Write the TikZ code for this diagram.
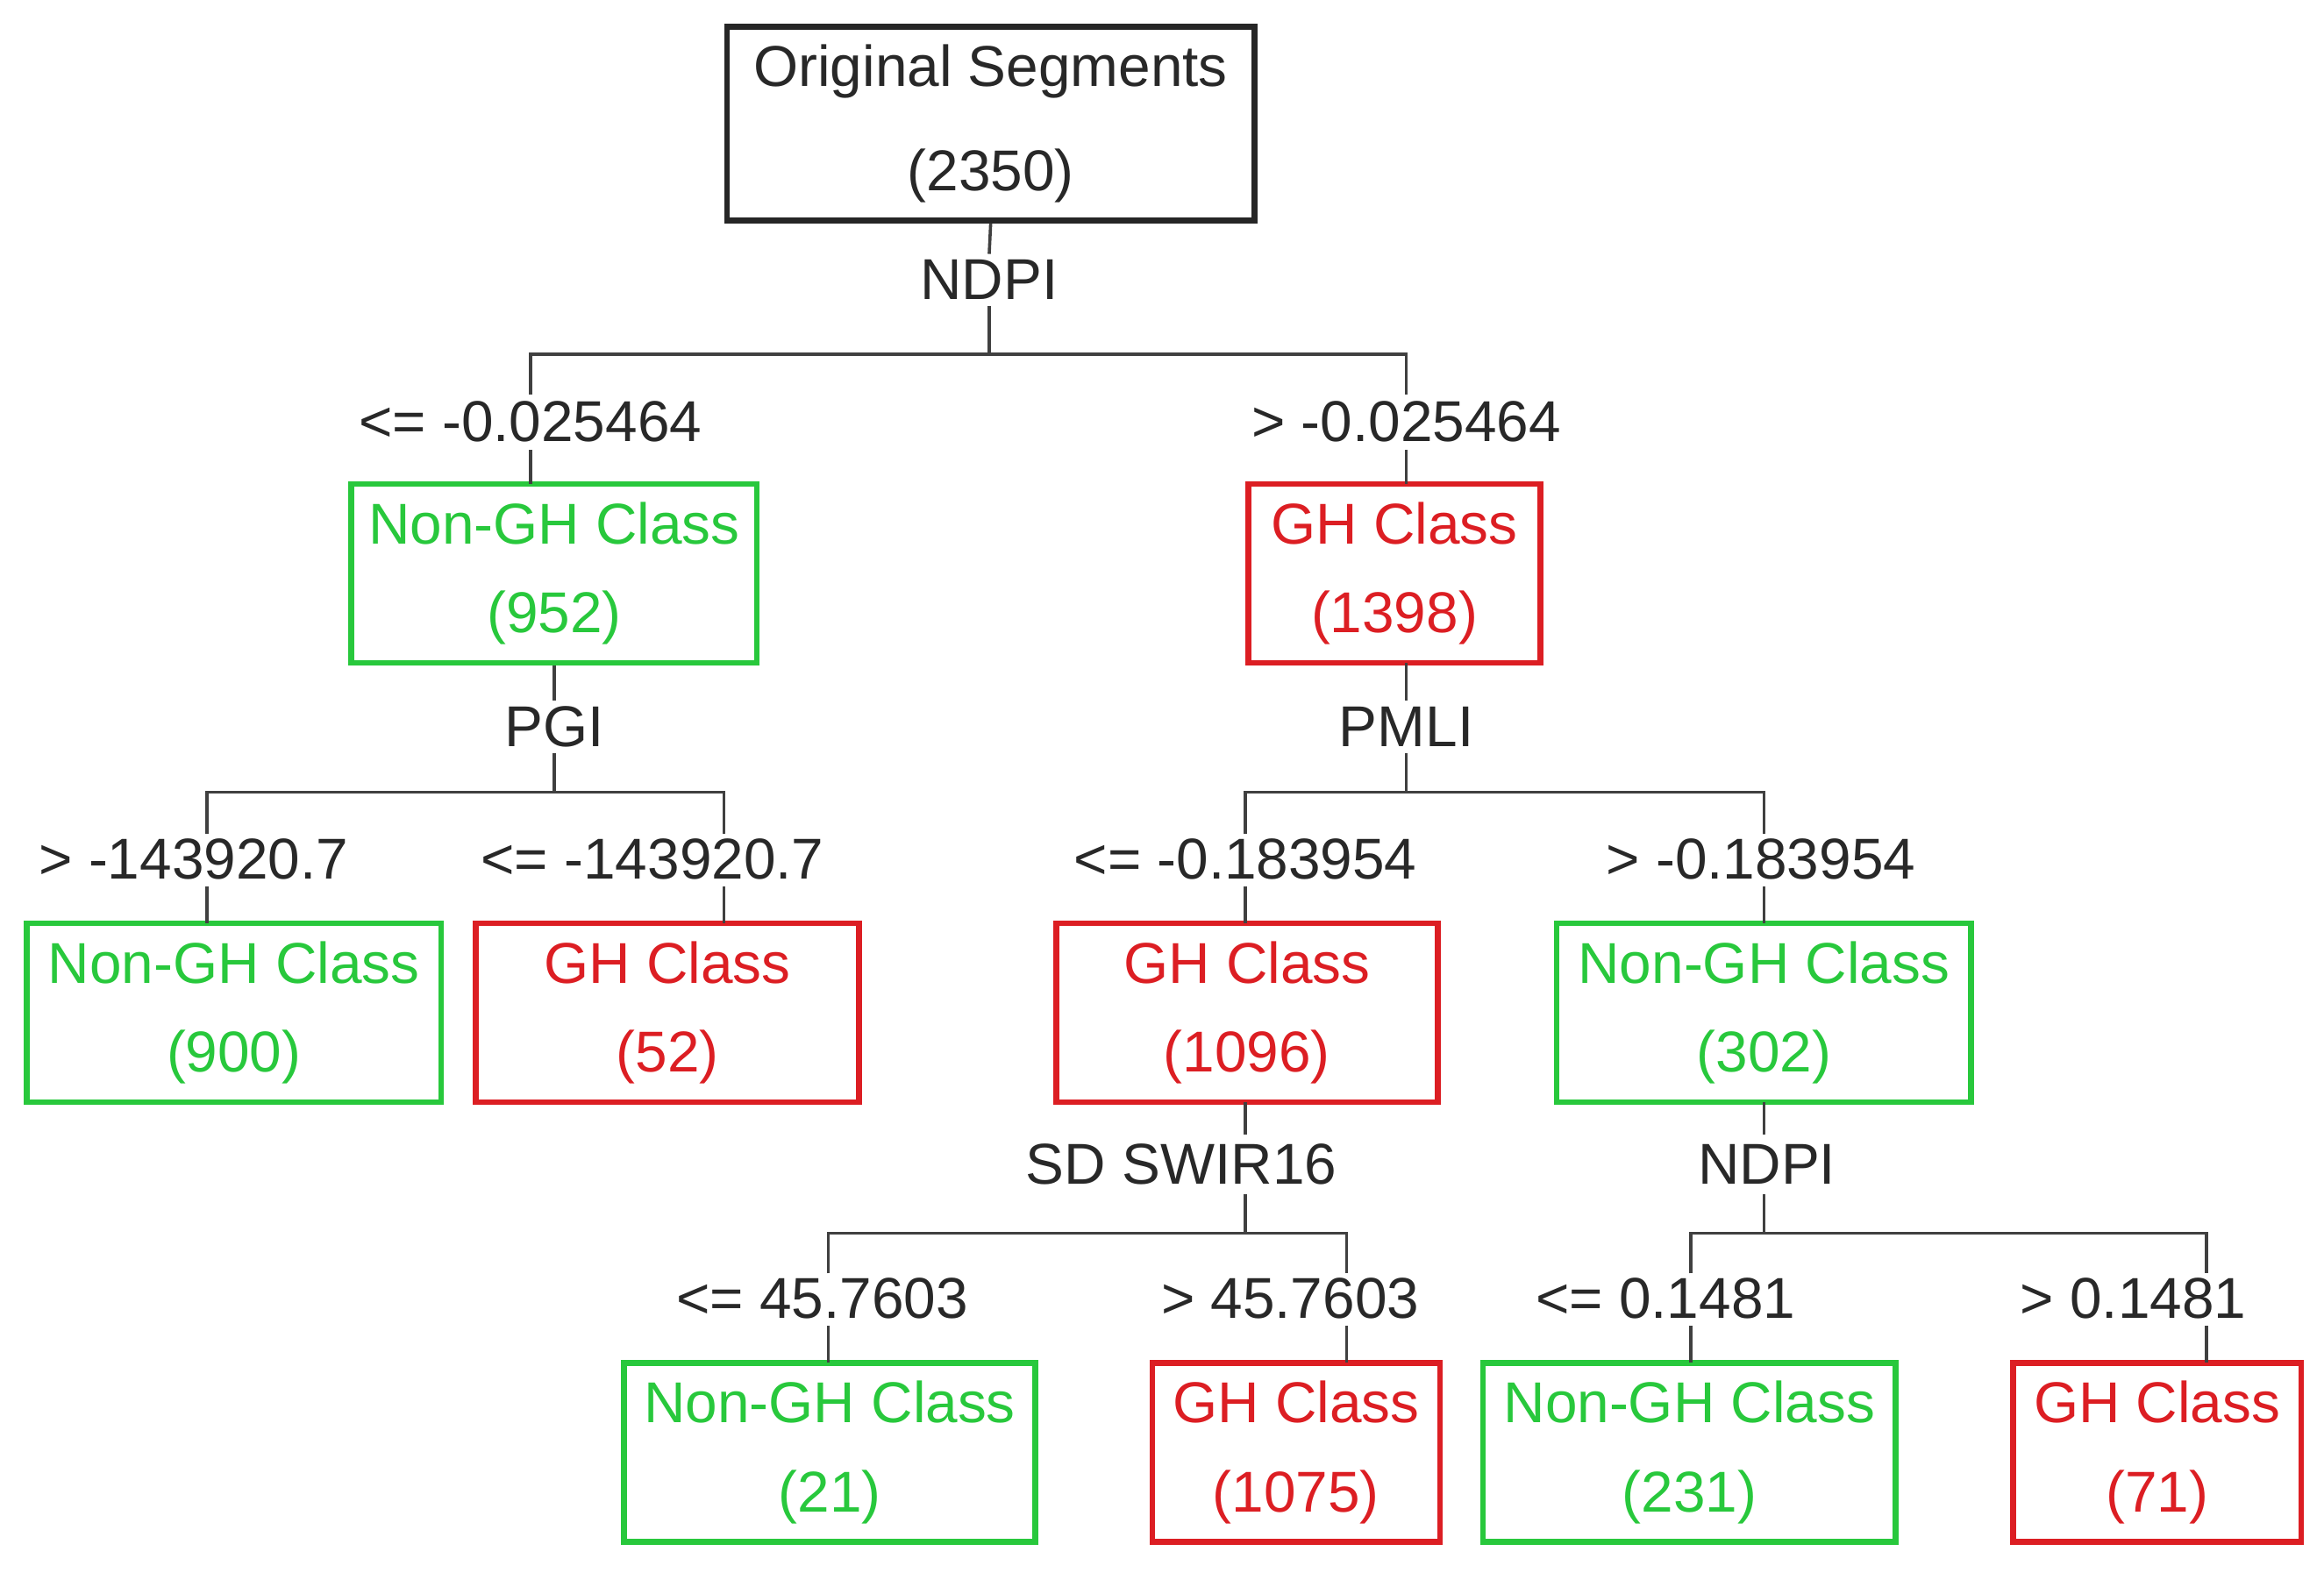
\documentclass[tikz,border=0pt]{standalone}
\usepackage{fontspec}
\setmainfont{Liberation Sans}
\definecolor{gg}{RGB}{40,200,60}
\definecolor{rr}{RGB}{220,30,35}
\definecolor{tx}{RGB}{40,40,40}
\begin{document}
\begin{tikzpicture}[x=0.01cm,y=-0.01cm,
  box/.style={draw,line width=1.1pt,inner sep=0,align=center,font=\fontsize{11}{17}\selectfont},
  gbox/.style={box,draw=gg,text=gg},
  rbox/.style={box,draw=rr,text=rr},
  lab/.style={text=tx,inner sep=1pt,font=\fontsize{11}{13}\selectfont},
  ln/.style={draw=black!75,line width=0.6pt}]
\useasboundingbox (0,0) rectangle (1560,1065);
% root
\node[box,draw=black!85,text=tx,minimum width=3.54cm,minimum height=1.3cm,font=\fontsize{11}{20}\selectfont] (root) at (665,83) {Original Segments\\(2350)};
\node[lab] (s1) at (664,188) {NDPI};
\coordinate (j1) at (664,238);
\node[lab] (l1) at (356,283) {<= -0.025464};
\node[lab] (r1) at (944,283) {> -0.025464};
\node[gbox,minimum width=2.72cm,minimum height=1.2cm] (a) at (372,385) {Non-GH Class\\(952)};
\node[rbox,minimum width=1.96cm,minimum height=1.2cm] (b) at (936,385) {GH Class\\(1398)};
\draw[ln] (root.south) -- (s1.north) (s1.south) -- (j1);
\draw[ln] (356,265) |- (j1) -| (944,265);
\draw[ln] (356,302) -- (356,325) (944,302) -- (944,325);
% PGI
\node[lab] (s2) at (372,488) {PGI};
\coordinate (j2) at (372,532);
\node[lab] (l2) at (130,577) {> -143920.7};
\node[lab] (r2) at (438,577) {<= -143920.7};
\node[gbox,minimum width=2.78cm,minimum height=1.2cm] (c) at (157,680) {Non-GH Class\\(900)};
\node[rbox,minimum width=2.57cm,minimum height=1.2cm] (d) at (448,680) {GH Class\\(52)};
\draw[ln] (a.south) -- (s2.north) (s2.south) -- (j2);
\draw[ln] (139,560) |- (j2) -| (486,560);
\draw[ln] (139,595) -- (139,620) (486,595) -- (486,620);
% PMLI
\node[lab] (s3) at (944,488) {PMLI};
\coordinate (j3) at (944,532);
\node[lab] (l3) at (836,577) {<= -0.183954};
\node[lab] (r3) at (1182,577) {> -0.183954};
\node[rbox,minimum width=2.56cm,minimum height=1.2cm] (e) at (837,680) {GH Class\\(1096)};
\node[gbox,minimum width=2.78cm,minimum height=1.2cm] (f) at (1184,680) {Non-GH Class\\(302)};
\draw[ln] (944,445) -- (s3.north) (s3.south) -- (j3);
\draw[ln] (836,560) |- (j3) -| (1184,560);
\draw[ln] (836,595) -- (836,620) (1184,595) -- (1184,620);
% SD SWIR16
\node[lab] (s4) at (793,782) {SD SWIR16};
\coordinate (j4) at (836,828);
\node[lab] (l4) at (552,872) {<= 45.7603};
\node[lab] (r4) at (866,872) {> 45.7603};
\node[gbox,minimum width=2.76cm,minimum height=1.2cm] (g) at (557,975) {Non-GH Class\\(21)};
\node[rbox,minimum width=1.93cm,minimum height=1.2cm] (h) at (870,975) {GH Class\\(1075)};
\draw[ln] (836,740) -- (836,762) (836,802) -- (j4);
\draw[ln] (556,855) |- (j4) -| (904,855);
\draw[ln] (556,890) -- (556,915) (904,890) -- (904,915);
% NDPI 2
\node[lab] (s5) at (1186,782) {NDPI};
\coordinate (j5) at (1184,828);
\node[lab] (l5) at (1118,872) {<= 0.1481};
\node[lab] (r5) at (1432,872) {> 0.1481};
\node[gbox,minimum width=2.77cm,minimum height=1.2cm] (i) at (1134,975) {Non-GH Class\\(231)};
\node[rbox,minimum width=1.93cm,minimum height=1.2cm] (k) at (1448,975) {GH Class\\(71)};
\draw[ln] (1184,740) -- (1184,762) (1184,802) -- (j5);
\draw[ln] (1135,855) |- (j5) -| (1481,855);
\draw[ln] (1135,890) -- (1135,915) (1481,890) -- (1481,915);
\end{tikzpicture}
\end{document}
